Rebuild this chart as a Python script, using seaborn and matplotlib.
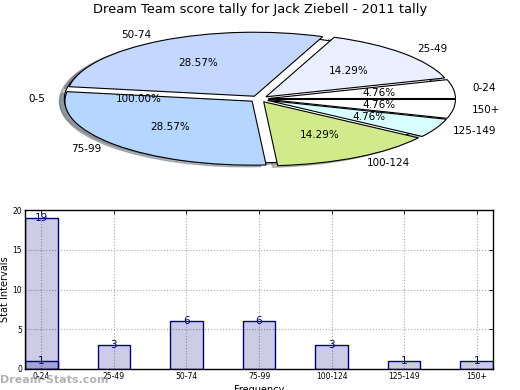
import matplotlib
matplotlib.use('Agg')
import matplotlib.pyplot as plt
import seaborn as sns

# score ranges and how many games fell in each
categories = ['0-24', '25-49', '50-74', '75-99', '100-124', '125-149', '150+']
counts = [1, 3, 6, 6, 3, 1, 1]
slice_colors = ['#ffffff', '#eaf0ff', '#c4d8ff', '#b4d6ff', '#d0ea8c', '#d8ffff', '#ffffff']

# overall slice drawn underneath the breakdown
total_label = ['0-5']
total_value = [sum(counts)]

# extra bar sitting on the first category
extra_bar = 19

sns.set_style('white')
plt.rcParams['font.family'] = ['DejaVu Sans']
plt.rcParams['text.color'] = 'black'
plt.rcParams['axes.labelcolor'] = 'black'
plt.rcParams['xtick.color'] = 'black'
plt.rcParams['ytick.color'] = 'black'

fig = plt.figure(figsize=(5.2, 3.9), dpi=100)

# 1. Pie chart (squashed, old style)
ax1 = fig.add_axes([25 / 520, 1 - 179 / 390, 468 / 520, 160 / 390])
shadow_style = {'ox': -0.02, 'oy': -0.02, 'shade': 0.6, 'alpha': 0.4}
ax1.pie(total_value, labels=total_label, autopct='%.2f%%', colors=['white'],
        explode=[0.04], shadow=shadow_style,
        wedgeprops=dict(edgecolor='black', linewidth=0.8),
        textprops=dict(fontsize=7.5, color='black'))
ax1.pie(counts, labels=categories, autopct='%.2f%%', colors=slice_colors,
        explode=[0.05] * len(counts), shadow=shadow_style,
        wedgeprops=dict(edgecolor='black', linewidth=0.8),
        textprops=dict(fontsize=7.5, color='black'))
ax1.set_aspect('auto')
ax1.set_xlim(-1.25, 1.25)
ax1.set_ylim(-1.25, 1.25)
fig.text(0.5, 1 - 10 / 390, 'Dream Team score tally for Jack Ziebell - 2011 tally',
         ha='center', va='center', fontsize=9.4, color='black')

# 2. Bar chart of frequencies
ax2 = fig.add_axes([25 / 520, 1 - 369 / 390, 468 / 520, 159 / 390])
sns.barplot(x=categories, y=counts, order=categories, width=0.45, color='navy',
            saturation=1, edgecolor='navy', linewidth=1, ax=ax2)
ax2.bar(0, extra_bar, width=0.45, edgecolor='navy', linewidth=1)
for p in ax2.patches:
    p.set_facecolor((0, 0, 0.5, 0.2))
    p.set_edgecolor('navy')

for i, v in enumerate(counts):
    ax2.text(i, v, str(v), ha='center', va='center', color='navy', fontsize=7.5)
ax2.text(0, extra_bar, str(extra_bar), ha='center', va='center', color='navy', fontsize=7.5)

ax2.set_xlim(-0.225, len(categories) - 1 + 0.225)
ax2.set_ylim(0, 20)
ax2.set_yticks([0, 5, 10, 15, 20])
ax2.grid(True, linestyle=':', color='#aaaaaa', linewidth=0.8)
ax2.set_axisbelow(True)
ax2.tick_params(direction='in', top=True, right=True, labelsize=5.5, length=3,
                width=0.6, pad=2)
for s in ax2.spines.values():
    s.set_color('black')
    s.set_linewidth(1)
ax2.set_ylabel('Stat Intervals', fontsize=7, labelpad=2)
ax2.set_xlabel('Frequency', fontsize=7, labelpad=3)

fig.text(0.0, 1 - 380 / 390, 'Dream-Stats.com', color='#999999', alpha=0.75,
         fontsize=8, fontweight='bold', va='center', ha='left')

fig.savefig('out.png', dpi=100)
